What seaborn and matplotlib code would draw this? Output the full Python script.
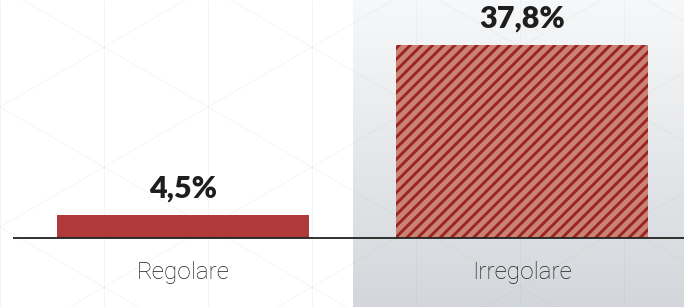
import numpy as np
import pandas as pd
import matplotlib
matplotlib.use("Agg")
import matplotlib.pyplot as plt
import seaborn as sns

# ---------------- DATA ----------------
categories = ["Regolare", "Irregolare"]
values = [4.5, 37.8]
value_labels = ["4,5%", "37,8%"]

solid_red = "#B03A3A"
stripe_light = "#CA8373"
stripe_dark = "#9B2427"

# ---------------- STYLE ----------------
sns.set_theme(style="white")
plt.rcParams["font.family"] = ["Lato", "DejaVu Sans"]
plt.rcParams["hatch.linewidth"] = 2.1

df = pd.DataFrame({"stato": categories, "quota": values})

fig = plt.figure(figsize=(6.84, 3.07), dpi=100)
fig.patch.set_facecolor("white")
ax = fig.add_axes([0, 0, 1, 1])

# px -> data scale
W, H = 684, 307
step = 339.0          # px between category centres
x0 = 183.0            # px of first centre
base_px = 69.0        # baseline height from bottom, px
ppu = 193.0 / 37.8    # px per percentage point

xl = (-x0 / step, (W - x0) / step)
yl = (-base_px / ppu, (H - base_px) / ppu)

# ---------------- BACKGROUND ----------------
# gray gradient panel behind the second category
grad = np.linspace(0, 1, 256).reshape(-1, 1)
cmap = matplotlib.colors.LinearSegmentedColormap.from_list("g", ["#f7f8f9", "#d3d7db"])
ax.imshow(grad, extent=[0.5, xl[1], yl[0], yl[1]], origin="upper", cmap=cmap,
          aspect="auto", zorder=0)

# faint triangle pattern (axes span the whole figure)
xs = np.array([0, W])
for k in range(-4, 6):
    c = 107 + 120 * k
    for s in (1, -1):
        ys = c + s * 0.577 * xs
        ax.plot(xs / W, 1 - ys / H, color="#b0b0b0", alpha=0.12, lw=0.7,
                zorder=0.5, transform=ax.transAxes)
for vx in range(0, W, 104):
    ax.plot([vx / W, vx / W], [0, 1], color="#b0b0b0", alpha=0.12, lw=0.7,
            zorder=0.5, transform=ax.transAxes)

# ---------------- BARS ----------------
sns.barplot(data=df, x="stato", y="quota", hue="stato",
            palette=[solid_red, stripe_light], width=0.743, saturation=1,
            legend=False, ax=ax, zorder=2)

bars = ax.patches
for b in bars:
    b.set_linewidth(0)
bars[1].set_hatch("///")
bars[1].set_edgecolor(stripe_dark)
bars[1].set_facecolor(stripe_light)

# baseline
ax.plot([-0.5, xl[1]], [0, 0], color="#222222", lw=1.3, zorder=3,
        solid_capstyle="butt")

# value labels
for i, (v, lab) in enumerate(zip(values, value_labels)):
    ax.annotate(lab, (i, v), xytext=(0, 9), textcoords="offset points",
                ha="center", va="bottom", fontsize=22, fontweight="heavy",
                color="#1e1e1e", zorder=4)

# category labels
for i, cat in enumerate(categories):
    ax.text(i, -34 / ppu, cat, ha="center", va="center", fontsize=17.5,
            family=["Roboto", "DejaVu Sans"], fontweight="light",
            color="#1e1e1e", zorder=4)

ax.set_xlim(*xl)
ax.set_ylim(*yl)
ax.axis("off")

fig.savefig("out.png", dpi=100, facecolor="white")
